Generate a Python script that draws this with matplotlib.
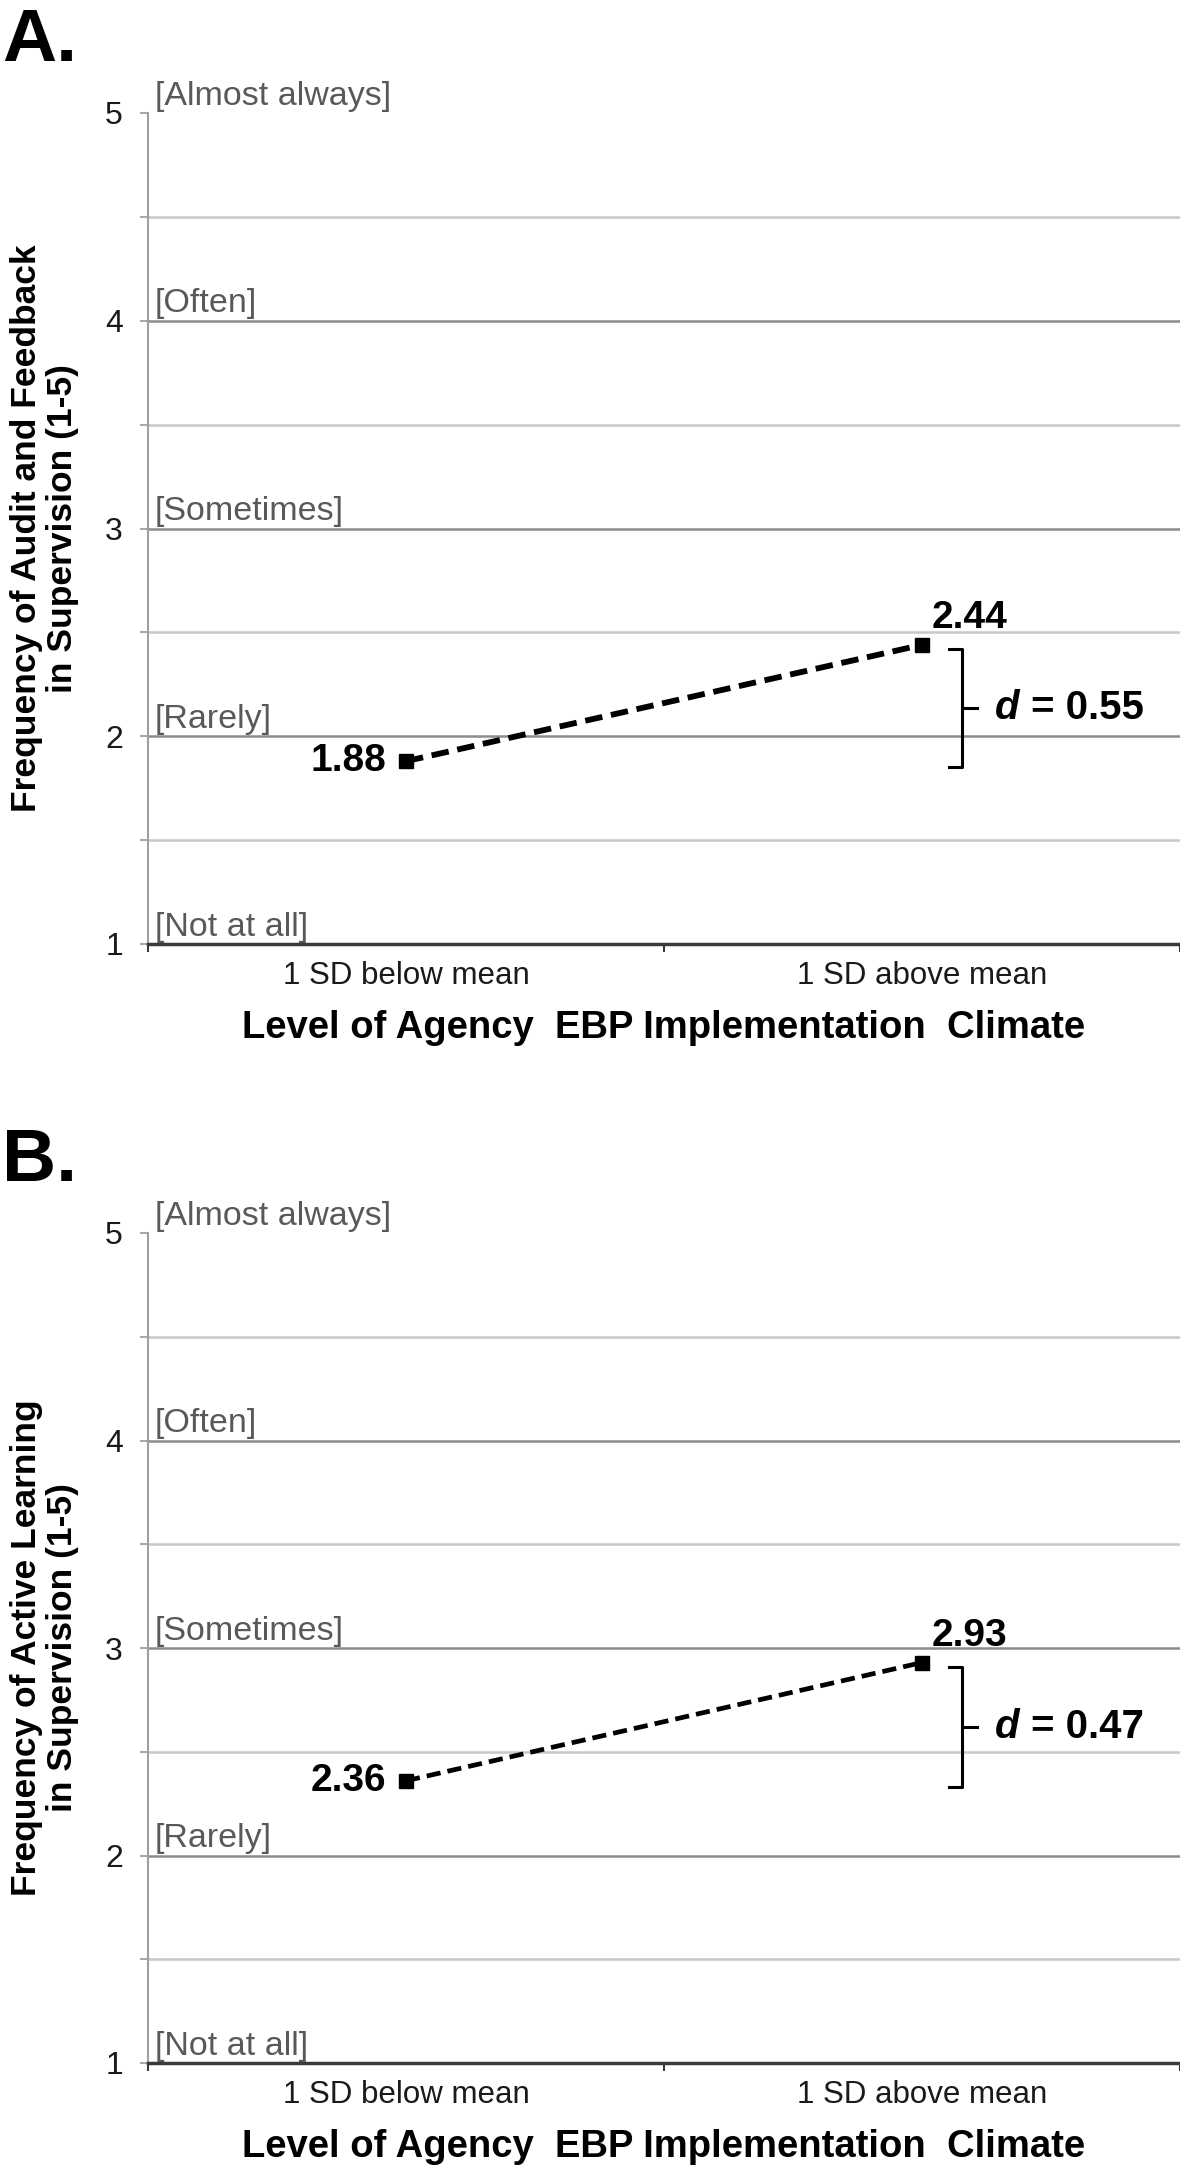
import matplotlib
matplotlib.use("Agg")
import matplotlib.pyplot as plt

plt.rcParams['font.family'] = ['Liberation Sans', 'DejaVu Sans']

levels = ["1 SD below mean", "1 SD above mean"]
audit_means = [1.88, 2.44]
active_means = [2.36, 2.93]
effect_sizes = [0.55, 0.47]
scale_values = [1, 2, 3, 4, 5]
scale_labels = ["[Not at all]", "[Rarely]", "[Sometimes]", "[Often]", "[Almost always]"]
panel_letters = ["A.", "B."]
ylabel_lines = [["Frequency of Audit and Feedback", "in Supervision (1-5)"],
                ["Frequency of Active Learning", "in Supervision (1-5)"]]
xlabel = "Level of Agency  EBP Implementation  Climate"

W, H = 1180, 2170
fig = plt.figure(figsize=(W / 100, H / 100), dpi=100)


def panel(top_px, bot_px, means, d, letter, ylines, lw):
    ax = fig.add_axes([148 / W, 1 - bot_px / H, 1 - 148 / W, (bot_px - top_px) / H])
    ax.set_xlim(0, 2)
    ax.set_ylim(1, 5)
    # gridlines every 0.5, darker at whole numbers
    for k in range(2, 10):
        v = k / 2
        col = '#8c8c8c' if k % 2 == 0 else '#c8c8c8'
        ax.axhline(v, color=col, lw=1.8, zorder=1, clip_on=False)
    for v, lab in zip(scale_values, scale_labels):
        ax.annotate(lab, xy=(0, v), xycoords=('axes fraction', 'data'),
                    xytext=(5, 6), textcoords='offset points',
                    fontsize=24.5, color='#595959', va='baseline', ha='left',
                    annotation_clip=False)
    for s in ['top', 'right']:
        ax.spines[s].set_visible(False)
    ax.spines['left'].set_color('#a0a0a0')
    ax.spines['left'].set_linewidth(1.5)
    ax.spines['bottom'].set_color('#3a3a3a')
    ax.spines['bottom'].set_linewidth(2.5)
    ax.spines['bottom'].set_zorder(3)

    ax.set_yticks(scale_values)
    ax.set_yticks([1.5, 2.5, 3.5, 4.5], minor=True)
    ax.tick_params(axis='y', which='both', direction='out', length=6, width=1.3,
                   color='#a0a0a0', labelsize=23, labelcolor='#1a1a1a', pad=12)
    ax.set_xticks([0, 1, 2])
    ax.set_xticklabels([])
    ax.set_xticks([0.5, 1.5], minor=True)
    ax.set_xticklabels(levels, minor=True)
    ax.tick_params(axis='x', which='major', direction='out', length=6, width=1.5,
                   color='#3a3a3a')
    ax.tick_params(axis='x', which='minor', length=0, labelsize=22.5,
                   labelcolor='#1a1a1a', pad=12)

    xs = [0.5, 1.5]
    ax.plot(xs, means, color='black', lw=lw, linestyle=(0, (3, 1.5)),
            marker='s', markersize=10, zorder=4, clip_on=False)
    ax.annotate(f"{means[0]:.2f}", xy=(xs[0], means[0]), xytext=(-14, 0),
                textcoords='offset points', ha='right', va='center',
                fontsize=28, fontweight='bold')
    ax.annotate(f"{means[1]:.2f}", xy=(xs[1], means[1]), xytext=(34, 12),
                textcoords='offset points', ha='center', va='baseline',
                fontsize=28, fontweight='bold')

    # bracket showing the effect size
    top = means[1] - 0.02
    bot = means[0] - 0.03
    mid = (top + bot) / 2
    xb0, xb1, xb2 = 1.552, 1.577, 1.607
    ax.plot([xb0, xb1, xb1, xb0], [top, top, bot, bot], color='black', lw=2.2,
            solid_joinstyle='round', zorder=4, clip_on=False)
    ax.plot([xb1, xb2], [mid, mid], color='black', lw=2.2, zorder=4)
    td = ax.text(1.642, mid, "d", fontsize=29, fontweight='bold', style='italic',
                 va='center', ha='left')
    ax.annotate(f" = {d:.2f}", xy=(1, 0), xycoords=td, va='bottom', ha='left',
                fontsize=29, fontweight='bold')

    ax.text(0.5, -94 / (bot_px - top_px), xlabel, transform=ax.transAxes,
            ha='center', va='baseline', fontsize=27.5, fontweight='bold')

    yc = 1 - (top_px + bot_px) / 2 / H
    fig.text(36 / W, yc, ylines[0], rotation=90, rotation_mode='anchor',
             ha='center', va='baseline', fontsize=25.5, fontweight='bold')
    fig.text(72 / W, yc, ylines[1], rotation=90, rotation_mode='anchor',
             ha='center', va='baseline', fontsize=25.5, fontweight='bold')
    fig.text(2 / W, 1 - (top_px - 52) / H, letter, fontsize=54, fontweight='bold',
             va='baseline', ha='left')
    return ax


panel(113, 944, audit_means, effect_sizes[0], panel_letters[0], ylabel_lines[0], 4.2)
panel(1233, 2063, active_means, effect_sizes[1], panel_letters[1], ylabel_lines[1], 3.4)

fig.savefig("out.png", dpi=100)
